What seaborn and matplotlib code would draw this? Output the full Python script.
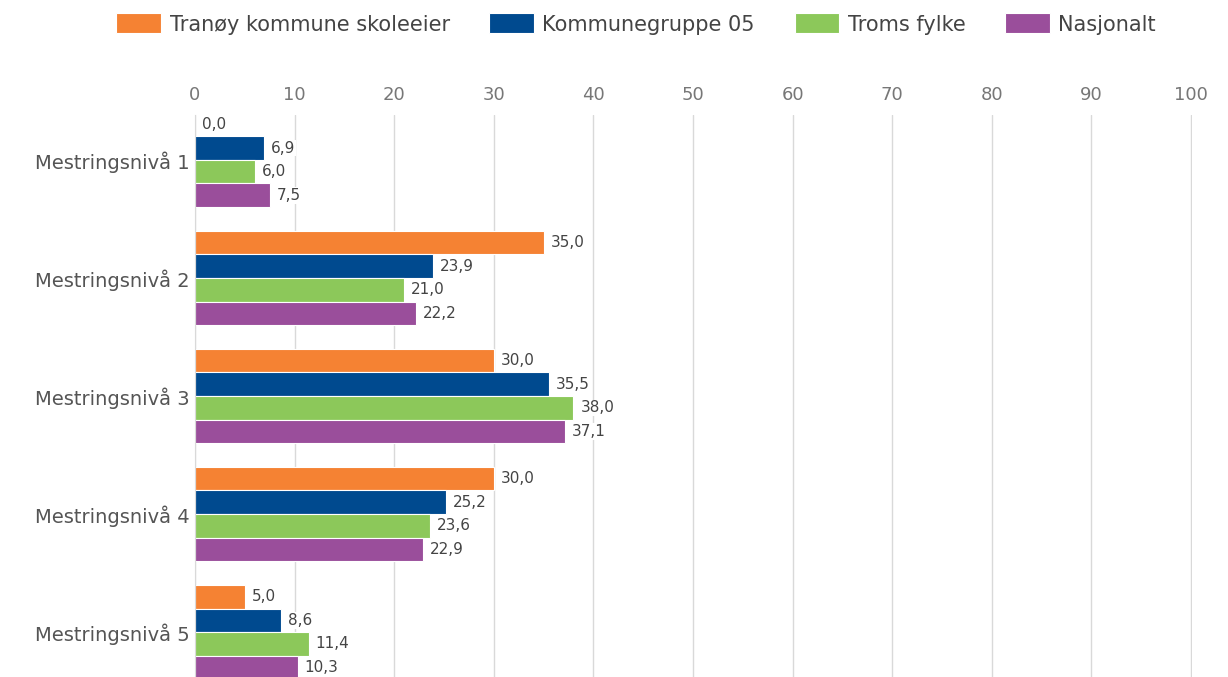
import numpy as np
import pandas as pd
import seaborn as sns
import matplotlib.pyplot as plt

# Data
levels = ["Mestringsnivå 1", "Mestringsnivå 2", "Mestringsnivå 3",
          "Mestringsnivå 4", "Mestringsnivå 5"]
series = ["Tranøy kommune skoleeier", "Kommunegruppe 05", "Troms fylke", "Nasjonalt"]
tranoy = [0.0, 35.0, 30.0, 30.0, 5.0]
kommunegruppe = [6.9, 23.9, 35.5, 25.2, 8.6]
troms = [6.0, 21.0, 38.0, 23.6, 11.4]
nasjonalt = [7.5, 22.2, 37.1, 22.9, 10.3]
x_ticks = list(range(0, 101, 10))

colors = ["#F58233", "#004A8F", "#8CC85A", "#9A4E9B"]

df = pd.DataFrame({
    "level": levels * 4,
    "series": np.repeat(series, len(levels)),
    "value": tranoy + kommunegruppe + troms + nasjonalt,
})

sns.set_style("white")
plt.rcParams["font.family"] = ["DejaVu Sans"]

fig = plt.figure(figsize=(12.28, 6.77), dpi=100)
ax = fig.add_axes([195 / 1228, 0.0, (1192 - 195) / 1228, 1 - 115 / 677])

sns.barplot(data=df, y="level", x="value", hue="series", order=levels,
            hue_order=series, palette=colors, orient="h", width=0.8,
            saturation=1, edgecolor="white", linewidth=0.8, ax=ax)

for cont in ax.containers:
    ax.bar_label(cont, labels=[f"{v:.1f}".replace(".", ",") for v in cont.datavalues],
                 padding=5, fontsize=11, color="#444444",
                 bbox=dict(facecolor="white", edgecolor="none", pad=0.5))

ax.set_xlim(0, 100.1)
ax.set_ylim(4.38, -0.38)
ax.set_xticks(x_ticks)
ax.xaxis.tick_top()
ax.tick_params(axis="x", length=0, labelsize=13, labelcolor="#777777", pad=8)
ax.tick_params(axis="y", length=0, labelsize=14, labelcolor="#555555", pad=4)
ax.set_xlabel("")
ax.set_ylabel("")
ax.grid(axis="x", color="#D9D9D9", linewidth=1)
ax.set_axisbelow(True)
for s in ["top", "right", "bottom"]:
    ax.spines[s].set_visible(False)
ax.spines["left"].set_color("#D9D9D9")

handles, labels = ax.get_legend_handles_labels()
ax.legend_.remove()
fig.legend(handles, labels, loc="center", bbox_to_anchor=(0.518, 1 - 24 / 677),
           ncol=4, frameon=False, fontsize=15, handlelength=2.15,
           handleheight=1.1, columnspacing=1.9, handletextpad=0.4,
           labelcolor="#444444")

fig.savefig("out.png", dpi=100)
